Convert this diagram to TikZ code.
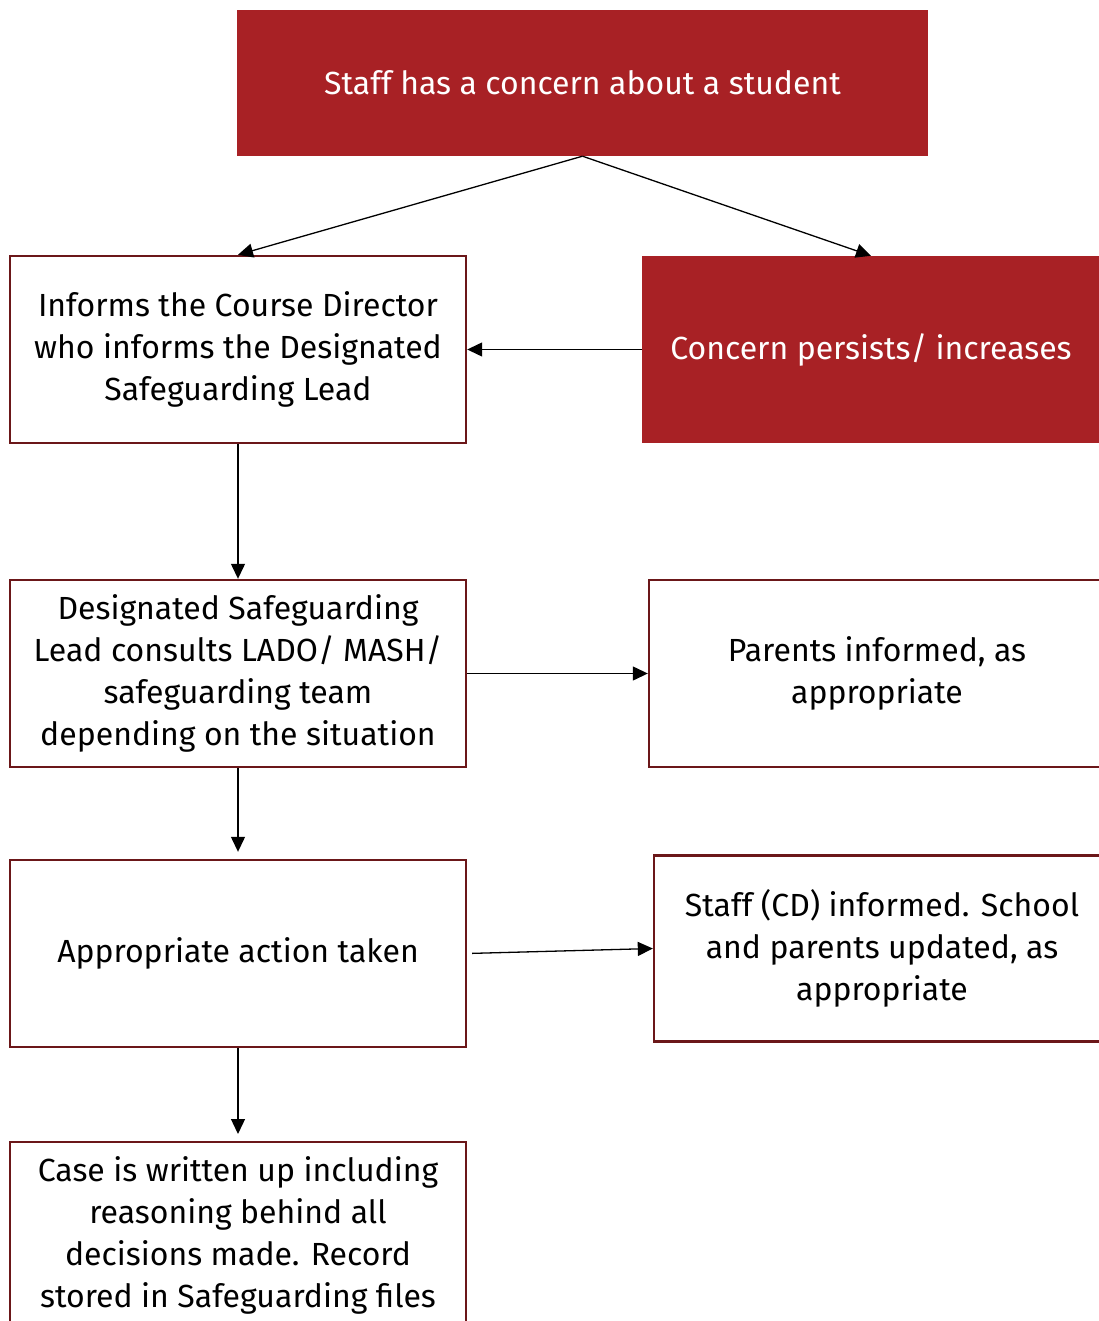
\documentclass[tikz,border=0pt]{standalone}
\usepackage{fontspec}
\setmainfont{Fira Sans}
\usetikzlibrary{arrows.meta}
\definecolor{redfill}{HTML}{A82125}
\definecolor{maroon}{HTML}{6B1719}
\begin{document}
\begin{tikzpicture}[x=1pt,y=-1pt,
  base/.style={rectangle,inner sep=0pt,align=center,font=\fontsize{32}{42}\selectfont},
  redbox/.style={base,fill=redfill,text=white},
  whitebox/.style={base,draw=maroon,line width=2.4pt,fill=white,text=black},
  conn/.style={draw=black,line width=1.3pt,-{Triangle[length=15pt,width=14pt]}}]
\useasboundingbox (0,0) rectangle (1099,1321);
\node[redbox,minimum width=691,minimum height=146] (top) at (582.5,83) {Staff has a concern about a student};
\node[whitebox,minimum width=456,minimum height=187] (a) at (238,349.5) {Informs the Course Director\\who informs the Designated\\Safeguarding Lead};
\node[redbox,minimum width=458,minimum height=187] (b) at (871,349.5) {Concern persists/ increases};
\node[whitebox,minimum width=456,minimum height=187] (c) at (238,673.5) {Designated Safeguarding\\Lead consults LADO/ MASH/\\safeguarding team\\depending on the situation};
\node[whitebox,minimum width=456,minimum height=187] (d) at (877,673.5) {Parents informed, as\\appropriate};
\node[whitebox,minimum width=456,minimum height=187] (e) at (238,953.5) {Appropriate action taken};
\node[whitebox,minimum width=456,minimum height=186] (f) at (882,948.5) {Staff (CD) informed. School\\and parents updated, as\\appropriate};
\node[whitebox,minimum width=456,minimum height=186,anchor=north] (g) at (238,1141) {Case is written up including\\reasoning behind all\\decisions made. Record\\stored in Safeguarding files};
\draw[conn] (top.south) -- (a.north);
\draw[conn] (top.south) -- (b.north);
\draw[conn] (b.west) -- (a.east);
\draw[conn] (a.south) -- (c.north);
\draw[conn] (c.east) -- (d.west);
\draw[conn,shorten >=7pt] (c.south) -- (e.north);
\draw[conn,shorten <=5pt] (e.east) -- (f.west);
\draw[conn,shorten >=7pt] (e.south) -- (g.north);
\end{tikzpicture}
\end{document}
